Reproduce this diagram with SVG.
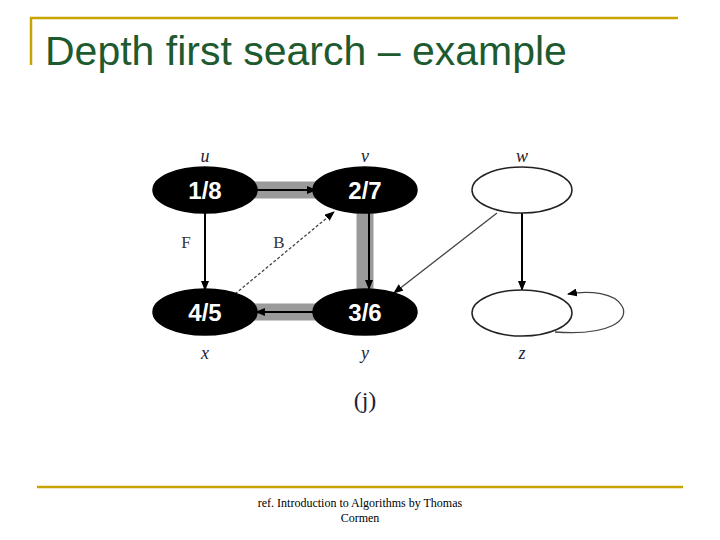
<svg xmlns="http://www.w3.org/2000/svg" width="720" height="540" viewBox="0 0 720 540">
<style>
.blk{fill:#000;stroke:#000;stroke-width:1.5}
.wht{fill:#fff;stroke:#222;stroke-width:1.5}
.num{font-family:"Liberation Sans",sans-serif;font-weight:bold;font-size:24px;fill:#fff;text-anchor:middle}
.lbl{font-family:"Liberation Serif",serif;font-style:italic;font-size:18px;fill:#223;text-anchor:middle}
.el{font-family:"Liberation Serif",serif;font-size:17px;fill:#333;text-anchor:middle}
.tree{stroke:#9a9a9a;stroke-width:17;fill:none}
.e{stroke:#000;stroke-width:2;fill:none;marker-end:url(#ah)}
.d{stroke:#444;stroke-width:1.3;stroke-dasharray:3,2;fill:none;marker-end:url(#ah)}
.t{stroke:#444;stroke-width:1.3;fill:none;marker-end:url(#ah)}
</style>
<defs><marker id="ah" markerWidth="10" markerHeight="8" refX="9" refY="4" orient="auto" markerUnits="userSpaceOnUse"><path d="M0,0L10,4L0,8z" fill="#000"/></marker></defs>
<g id="frame" stroke="#c8a400" stroke-width="2.5" fill="none">
<path d="M31,65V18H678"/><path d="M37,487H683"/>
</g>
<text x="45" y="65" font-family="Liberation Sans,sans-serif" font-size="41" fill="#1e5a30">Depth first search – example</text>
<g id="connectors">
<path class="tree" d="M245,190H325"/>
<path class="tree" d="M365,205V295"/>
<path class="tree" d="M325,312H245"/>
<path class="e" d="M255,190H316"/>
<path class="e" d="M205,213V290"/>
<path class="e" d="M369,213V289"/>
<path class="e" d="M315,312H256"/>
<path class="d" d="M235,294L334,212"/>
<path class="t" d="M497,213L394,293"/>
<path class="e" d="M522,213V290"/>
<path class="t" d="M555,332C610,336 630,320 622,306C615,293 590,290 568,294"/>
</g>
<g id="u"><ellipse class="blk" cx="205" cy="190" rx="52" ry="23"/><text class="num" x="205" y="199">1/8</text><text class="lbl" x="205" y="162">u</text></g>
<g id="v"><ellipse class="blk" cx="365" cy="190" rx="52" ry="23"/><text class="num" x="365" y="199">2/7</text><text class="lbl" x="365" y="162">v</text></g>
<g id="w"><ellipse class="wht" cx="522" cy="190" rx="50" ry="23"/><text class="lbl" x="522" y="162">w</text></g>
<g id="x"><ellipse class="blk" cx="205" cy="312" rx="52" ry="23"/><text class="num" x="205" y="321">4/5</text><text class="lbl" x="205" y="359">x</text></g>
<g id="y"><ellipse class="blk" cx="365" cy="312" rx="52" ry="23"/><text class="num" x="365" y="321">3/6</text><text class="lbl" x="365" y="359">y</text></g>
<g id="z"><ellipse class="wht" cx="522" cy="313" rx="50" ry="23"/><text class="lbl" x="522" y="359">z</text></g>
<text class="el" x="186" y="248">F</text>
<text class="el" x="279" y="248">B</text>
<text x="365" y="408" font-family="Liberation Serif,serif" font-size="24" fill="#223" text-anchor="middle">(j)</text>
<text font-family="Liberation Serif,serif" font-size="12" fill="#000" text-anchor="middle"><tspan x="360" y="507">ref. Introduction to Algorithms by Thomas</tspan><tspan x="360" y="522">Cormen</tspan></text>
</svg>
